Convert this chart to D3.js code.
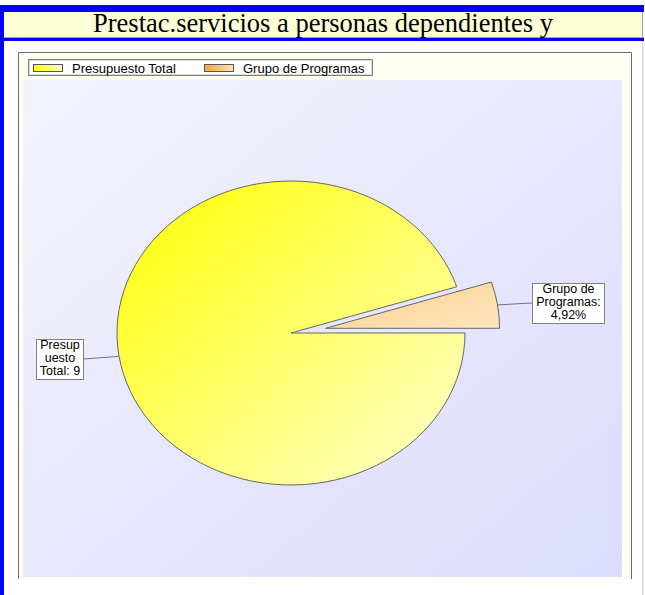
<!DOCTYPE html>
<html>
<head>
<meta charset="utf-8">
<script src="https://cdn.jsdelivr.net/npm/d3@7"></script>
<style>
  body { margin: 0; background: #fff; }
  svg { display: block; }
</style>
</head>
<body>
<script>
// chart values
const categories = ["Presupuesto Total", "Grupo de Programas"];
const values = [95.08, 4.92];
const labelLines = [["Presup", "uesto", "Total: 9"], ["Grupo de", "Programas:", "4,92%"]];
const titleText = "Prestac.servicios a personas dependientes y";

const W = 645, H = 595;
const svg = d3.select("body").append("svg").attr("width", W).attr("height", H);
const defs = svg.append("defs");

function grad(id, c1, c2, x2, y2) {
    const g = defs.append("linearGradient").attr("id", id)
        .attr("x1", 0).attr("y1", 0).attr("x2", x2).attr("y2", y2);
    g.append("stop").attr("offset", 0).attr("stop-color", c1);
    g.append("stop").attr("offset", 1).attr("stop-color", c2);
}
grad("gPlot", "#f3f3fd", "#dcdcfd", 1, 1);
grad("gPanel", "#ffffee", "#fffff8", 1, 1);
grad("gYellow", "#ffff00", "#ffffd0", 1, 1);
grad("gOrange", "#fccf8e", "#fde6bd", 1, 1);
grad("lYellow", "#ffff00", "#ffffc8", 1, 0);
grad("lOrange", "#f8a540", "#fde2b8", 1, 0);

const fills = ["url(#gYellow)", "url(#gOrange)"];
const legendFills = ["url(#lYellow)", "url(#lOrange)"];
const font = "'Liberation Sans', Arial, sans-serif";

// frame: blue borders and title band
svg.append("rect").attr("x", 0).attr("y", 5).attr("width", 644).attr("height", 7).attr("fill", "#0000ff");
svg.append("rect").attr("x", 0).attr("y", 12).attr("width", 643).attr("height", 25).attr("fill", "#ffffd8");
svg.append("rect").attr("x", 642).attr("y", 12).attr("width", 1).attr("height", 25).attr("fill", "#a0a0a0");
svg.append("rect").attr("x", 0).attr("y", 37).attr("width", 644).attr("height", 1).attr("fill", "#a0a0c0");
svg.append("rect").attr("x", 0).attr("y", 38).attr("width", 644).attr("height", 3).attr("fill", "#0000ff");
svg.append("rect").attr("x", 0).attr("y", 5).attr("width", 4).attr("height", H - 5).attr("fill", "#0000ff");
svg.append("rect").attr("x", 642).attr("y", 41).attr("width", 1.5).attr("height", H - 41).attr("fill", "#d8d8f4");

svg.append("text")
    .attr("x", 323).attr("y", 32)
    .attr("text-anchor", "middle")
    .attr("font-family", "'Liberation Serif', 'Times New Roman', serif")
    .attr("font-size", 26.5)
    .attr("fill", "#000")
    .text(titleText);

// chart panel
svg.append("rect").attr("x", 18).attr("y", 52).attr("width", 613).attr("height", 527).attr("fill", "url(#gPanel)");
svg.append("path").attr("d", "M18.5,579V52.5H631.5V579").attr("fill", "none").attr("stroke", "#6a6a6a");
svg.append("rect").attr("x", 23).attr("y", 80).attr("width", 599).attr("height", 497).attr("fill", "url(#gPlot)");

// legend
const legend = svg.append("g");
legend.append("rect").attr("x", 28.5).attr("y", 59.5).attr("width", 344).attr("height", 16)
    .attr("fill", "#fff").attr("stroke", "#808080");
legend.append("rect").attr("x", 29.5).attr("y", 60.5).attr("width", 342).attr("height", 14)
    .attr("fill", "none").attr("stroke", "#d8d8d8");
const legendX = [33, 204];
categories.forEach((c, i) => {
    legend.append("rect").attr("x", legendX[i] + 0.5).attr("y", 64.5).attr("width", 29).attr("height", 7)
        .attr("fill", legendFills[i]).attr("stroke", "#555").attr("stroke-width", 1);
    legend.append("text").attr("x", legendX[i] + 39).attr("y", 72.5)
        .attr("font-family", font).attr("font-size", 13)
        .text(c);
});

// pie (elliptical)
const cx = 291, cy = 333, rx = 174, ry = 152, explode = 35;
const pie = d3.pie().sort(null).startAngle(Math.PI / 2).endAngle(Math.PI / 2 + 2 * Math.PI);
const arcs = pie(values);
const arc = d3.arc().innerRadius(0).outerRadius(rx);
const exploded = [false, true];

const pieG = svg.append("g").attr("transform", `translate(${cx},${cy}) scale(1,${ry / rx})`);
arcs.forEach((a, i) => {
    const mid = (a.startAngle + a.endAngle) / 2;
    const off = exploded[i] ? explode : 0;
    pieG.append("path")
        .attr("d", arc(a))
        .attr("transform", `translate(${Math.sin(mid) * off},${-Math.cos(mid) * off})`)
        .attr("fill", fills[i])
        .attr("stroke", "#666")
        .attr("stroke-width", 1)
        .attr("vector-effect", "non-scaling-stroke");
});

// labels with leader lines
const boxes = [
    { x: 36, y: 339, w: 47, h: 40, side: -1, base: 349 },
    { x: 532, y: 283, w: 72, h: 40, side: 1, base: 293 }
];
const lineStep = 13;
arcs.forEach((a, i) => {
    const mid = (a.startAngle + a.endAngle) / 2;
    const off = exploded[i] ? explode : 0;
    const px = cx + Math.sin(mid) * (rx + off);
    const py = cy - Math.cos(mid) * (ry + off * ry / rx);
    const b = boxes[i];
    const ex = b.side < 0 ? b.x + b.w : b.x;
    const ey = b.y + b.h / 2;
    svg.append("line").attr("x1", px).attr("y1", py).attr("x2", ex).attr("y2", ey)
        .attr("stroke", "#707080").attr("stroke-width", 1);
    svg.append("rect").attr("x", b.x + 0.5).attr("y", b.y + 0.5).attr("width", b.w).attr("height", b.h)
        .attr("fill", "#fff").attr("stroke", "#808080");
    const t = svg.append("text")
        .attr("font-family", font).attr("font-size", 12.5)
        .attr("text-anchor", "middle");
    labelLines[i].forEach((ln, j) => {
        t.append("tspan").attr("x", b.x + b.w / 2 + 0.5).attr("y", b.base + j * lineStep).text(ln);
    });
});
</script>
</body>
</html>
